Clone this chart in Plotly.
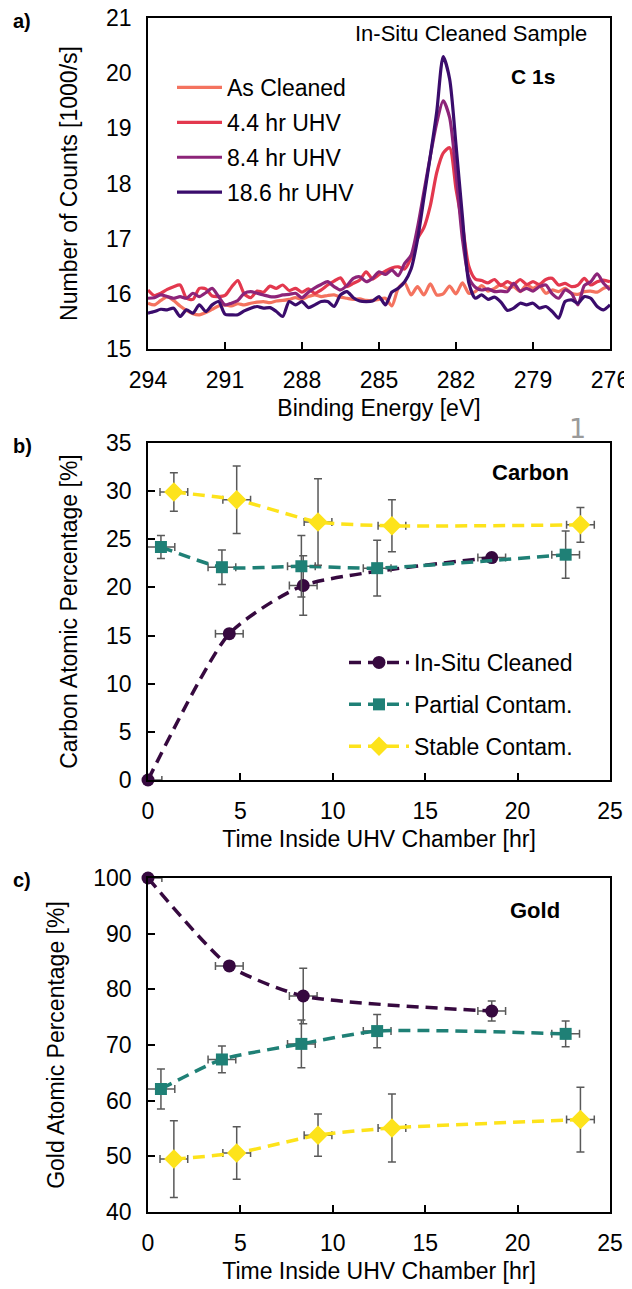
import plotly.graph_objects as go

W, H = 632, 1289
FONT = "Liberation Sans"
OFF = 8  # page body margin offset compensation

# ---------------- Panel a data: C 1s spectra ----------------
energy = [round(294 - 0.25 * i, 2) for i in range(73)]

as_cleaned = [15.83, 15.80, 15.88, 15.95, 15.88, 15.78, 15.70, 15.64, 15.62, 15.66, 15.72, 15.78, 15.80,
              15.78, 15.82, 15.80, 15.83, 15.85, 15.86, 15.84, 15.87, 15.88, 15.90, 15.93, 15.90,
              15.95, 15.98, 15.95, 15.97, 15.98, 15.94, 15.92, 15.90, 15.91, 15.88, 15.88, 15.90, 15.92,
              15.78, 16.10, 16.20,
              15.98, 16.13, 15.98, 16.18, 15.98, 16.00, 16.14, 16.00, 16.20, 16.01,
              16.04, 16.15, 16.05, 16.10, 16.17, 16.10, 16.13, 16.04, 16.16, 16.10, 16.15, 16.01,
              16.07, 16.04, 16.10, 16.01, 15.99, 16.04, 16.05, 16.03, 16.10, 16.13]
uhv_4_4 = [16.07, 15.97, 16.01, 16.08, 16.13, 16.16, 15.92, 15.90, 16.10, 16.09, 15.96, 15.95, 15.97,
           16.12, 16.24, 16.00, 15.93, 16.05, 16.03, 16.14, 16.10, 16.16, 16.06, 16.10, 16.03,
           16.09, 16.01, 16.07, 16.16, 16.23, 16.29, 16.13, 16.19, 16.25, 16.40, 16.27, 16.35, 16.41,
           16.47, 16.49, 16.45,
           16.65, 17.00, 17.20, 17.60, 18.20, 18.55, 18.65, 17.90, 17.25, 16.50,
           16.27, 16.24, 16.20, 16.26, 16.15, 16.22, 16.17, 16.26, 16.17, 16.22, 16.17, 16.26,
           16.28, 16.16, 16.19, 16.13, 16.16, 16.28, 16.16, 16.22, 16.25, 16.22]
uhv_8_4 = [15.92, 15.93, 15.98, 15.95, 15.92, 15.95, 15.92, 16.01, 15.95, 16.02, 16.10, 15.95, 15.80,
           15.83, 15.88, 16.01, 16.04, 16.01, 15.98, 15.95, 15.95, 15.98, 15.99, 16.01, 15.93,
           16.03, 16.11, 16.17, 16.22, 16.13, 16.07, 16.15, 16.28, 16.31, 16.22, 16.28, 16.40, 16.35,
           16.43, 16.33, 16.55,
           16.70, 17.20, 17.85, 18.50, 19.10, 19.50, 19.20, 18.20, 17.00, 16.30,
           16.12, 16.07, 16.09, 16.04, 16.05, 16.04, 16.19, 16.05, 16.10, 16.05, 16.13, 16.16,
           16.00, 15.92, 16.07, 16.01, 15.80, 16.15, 16.22, 16.36, 16.19, 16.07]
uhv_18_6 = [15.65, 15.68, 15.72, 15.71, 15.74, 15.59, 15.71, 15.65, 15.80, 15.68, 15.80, 15.86, 15.63,
            15.62, 15.62, 15.69, 15.74, 15.77, 15.74, 15.75, 15.68, 15.59, 15.86, 15.80, 15.86,
            15.75, 15.80, 15.86, 15.86, 15.77, 15.98, 16.04, 15.93, 15.87, 15.86, 15.87, 15.95, 15.80,
            16.03, 16.10, 16.22,
            16.45, 16.98, 17.74, 18.50, 19.30, 20.30, 19.90, 18.70, 17.40, 16.20,
            15.92, 15.98, 15.90, 15.94, 15.85, 15.70, 15.74, 15.83, 15.80, 15.83, 15.74, 15.77,
            15.68, 15.56, 15.86, 15.89, 15.83, 15.95, 15.92, 15.77, 15.71, 15.80]

spectra_names = ["As Cleaned", "4.4 hr UHV", "8.4 hr UHV", "18.6 hr UHV"]
spectra_values = [as_cleaned, uhv_4_4, uhv_8_4, uhv_18_6]
spectra_colors = ["#F4735F", "#E3384E", "#8C2479", "#3A0C6C"]

# ---------------- Panels b, c data ----------------
series_names = ["In-Situ Cleaned", "Partial Contam.", "Stable Contam."]
t_insitu = [0, 4.4, 8.4, 18.6]
t_partial = [0.7, 4.0, 8.3, 12.4, 22.6]
t_stable = [1.4, 4.8, 9.2, 13.2, 23.4]
t_err_insitu_plus = [0.75, 0.75, 0.75, 0.75]
t_err_insitu_minus = [0.0, 0.75, 0.75, 0.75]
t_err_5 = [0.75, 0.75, 0.75, 0.75, 0.75]

carbon_insitu = [0, 15.2, 20.2, 23.1]
carbon_insitu_err = [0, 0.3, 3.1, 0.4]
carbon_partial = [24.2, 22.1, 22.2, 22.0, 23.4]
carbon_partial_err = [1.2, 1.8, 3.2, 2.9, 2.45]
carbon_stable = [29.9, 29.1, 26.8, 26.4, 26.5]
carbon_stable_err = [2.0, 3.5, 4.5, 2.7, 1.8]

gold_insitu = [100, 84.2, 78.8, 76.1]
gold_insitu_err = [0, 0.5, 5.0, 1.8]
gold_partial = [62.1, 67.4, 70.2, 72.5, 72.0]
gold_partial_err = [3.6, 2.4, 4.3, 3.0, 2.3]
gold_stable = [49.5, 50.6, 53.8, 55.1, 56.6]
gold_stable_err = [6.9, 4.7, 3.8, 6.1, 5.8]

series_colors = ["#36093F", "#1F8076", "#FDE31B"]
series_symbols = ["circle", "square", "diamond"]
series_sizes = [13, 12, 15]

fig = go.Figure()

for name, vals, col in zip(spectra_names, spectra_values, spectra_colors):
    fig.add_trace(go.Scatter(
        x=energy, y=vals, mode="lines", name=name, legendgroup=name, legend="legend",
        line=dict(color=col, width=3.2, shape="spline", smoothing=0.7),
        xaxis="x", yaxis="y"))

ERR_COL = "#595959"


def add_series(ax, ay, times, tplus, tminus, vals, verr, idx, showleg):
    fig.add_trace(go.Scatter(
        x=times, y=vals, mode="lines+markers", name=series_names[idx],
        legendgroup=series_names[idx], legend="legend2", showlegend=showleg,
        line=dict(color=series_colors[idx], width=3.5, dash="12px,7px", shape="spline", smoothing=0.6),
        marker=dict(symbol=series_symbols[idx], size=series_sizes[idx], color=series_colors[idx]),
        error_x=dict(type="data", array=tplus, arrayminus=tminus, symmetric=False,
                     color=ERR_COL, thickness=1.5, width=4),
        error_y=dict(type="data", array=verr, color=ERR_COL, thickness=1.5, width=4),
        cliponaxis=False, xaxis=ax, yaxis=ay))


add_series("x2", "y2", t_insitu, t_err_insitu_plus, t_err_insitu_minus, carbon_insitu, carbon_insitu_err, 0, True)
add_series("x2", "y2", t_partial, t_err_5, t_err_5, carbon_partial, carbon_partial_err, 1, True)
add_series("x2", "y2", t_stable, t_err_5, t_err_5, carbon_stable, carbon_stable_err, 2, True)
add_series("x3", "y3", t_insitu, t_err_insitu_plus, t_err_insitu_minus, gold_insitu, gold_insitu_err, 0, False)
add_series("x3", "y3", t_partial, t_err_5, t_err_5, gold_partial, gold_partial_err, 1, False)
add_series("x3", "y3", t_stable, t_err_5, t_err_5, gold_stable, gold_stable_err, 2, False)


def px(x):
    return (x - OFF) / W


def py(y):
    return 1 - (y - OFF) / H


L, R = px(148), px(610)
axis_common = dict(showline=True, linecolor="black", linewidth=1.5, mirror=True, automargin=False,
                   showgrid=False, zeroline=False, ticks="inside", ticklen=7, tickwidth=1.5,
                   tickcolor="black", tickfont=dict(family=FONT, size=23, color="black"),
                   ticklabelstandoff=10, ticklabeloverflow="allow")

title_font = dict(family=FONT, size=23, color="black")

fig.update_layout(
    width=W, height=H, margin=dict(l=0, r=0, t=0, b=0, autoexpand=False),
    paper_bgcolor="white", plot_bgcolor="white",
    font=dict(family=FONT, color="black"),
    xaxis=dict(axis_common, domain=[L, R], range=[294, 276], dtick=3, tick0=276, anchor="y",
               title=dict(text="Binding Energy [eV]", font=title_font, standoff=8)),
    yaxis=dict(axis_common, domain=[py(349), py(18)], range=[15, 21], dtick=1, ticks="", anchor="x",
               title=dict(text="Number of Counts [1000/s]", font=title_font, standoff=22)),
    xaxis2=dict(axis_common, domain=[L, R], range=[0, 25], dtick=5, anchor="y2",
                title=dict(text="Time Inside UHV Chamber [hr]", font=title_font, standoff=8)),
    yaxis2=dict(axis_common, domain=[py(780), py(443)], range=[0, 35], dtick=5, anchor="x2",
                title=dict(text="Carbon Atomic Percentage [%]", font=title_font, standoff=22)),
    xaxis3=dict(axis_common, domain=[L, R], range=[0, 25], dtick=5, anchor="y3",
                title=dict(text="Time Inside UHV Chamber [hr]", font=title_font, standoff=8)),
    yaxis3=dict(axis_common, domain=[py(1212), py(878)], range=[40, 100], dtick=10, anchor="x3",
                title=dict(text="Gold Atomic Percentage [%]", font=title_font, standoff=22)),
    legend=dict(x=px(172), y=py(66), xanchor="left", yanchor="top", itemwidth=45,
                font=dict(family=FONT, size=23, color="black"), tracegroupgap=2,
                bgcolor="rgba(0,0,0,0)", itemclick=False),
    legend2=dict(x=px(344), y=py(641), xanchor="left", yanchor="top", itemwidth=60,
                 font=dict(family=FONT, size=23, color="black"), tracegroupgap=9,
                 bgcolor="rgba(0,0,0,0)"),
    showlegend=True,
)

annotations = [
    dict(text="In-Situ Cleaned Sample", x=px(471), y=py(34), font=dict(family=FONT, size=22)),
    dict(text="<b>C 1s</b>", x=px(533), y=py(76), font=dict(family=FONT, size=21)),
    dict(text="<b>Carbon</b>", x=px(530), y=py(473), font=dict(family=FONT, size=22)),
    dict(text="<b>Gold</b>", x=px(535), y=py(910), font=dict(family=FONT, size=22)),
    dict(text="<b>a)</b>", x=px(22), y=py(21), font=dict(family=FONT, size=20)),
    dict(text="<b>b)</b>", x=px(22), y=py(446), font=dict(family=FONT, size=20)),
    dict(text="<b>c)</b>", x=px(22), y=py(880), font=dict(family=FONT, size=20)),
    dict(text="1", x=px(577), y=py(428), font=dict(family="DejaVu Sans", size=27, color="#9A9A9A")),
]
for a in annotations:
    a.update(xref="paper", yref="paper", showarrow=False, xanchor="center", yanchor="middle")
    a["font"].setdefault("color", "black")
fig.update_layout(annotations=annotations)

fig.write_html("out.html")
